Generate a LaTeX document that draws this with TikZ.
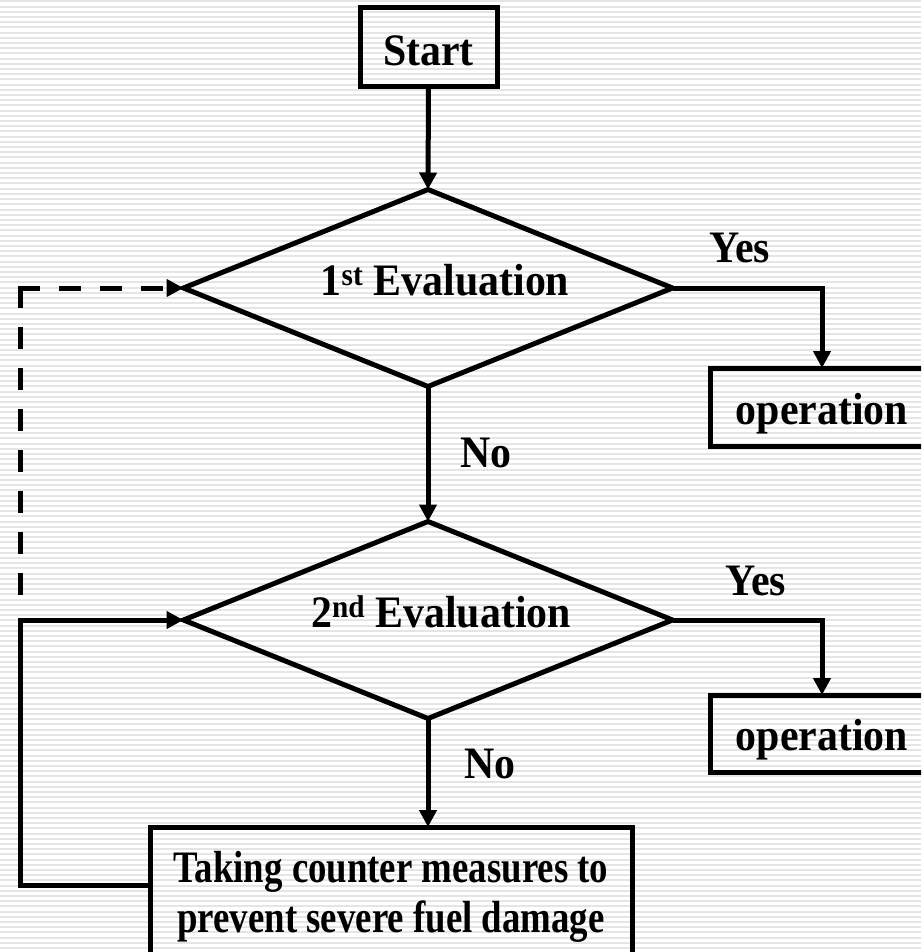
\documentclass[tikz,border=0pt]{standalone}
\usepackage{fontspec}
\setmainfont[FakeStretch=0.93]{Liberation Serif}
\usetikzlibrary{shapes.geometric,arrows.meta}
\begin{document}
\begin{tikzpicture}[x=1pt,y=-1pt,
  every node/.style={font=\fontsize{45}{50}\selectfont\bfseries, inner sep=0pt, outer sep=0pt},
  box/.style={draw, line width=5pt, rectangle},
  dec/.style={draw, line width=5pt, diamond, minimum width=489pt, minimum height=197pt},
  conn/.style={line width=5pt},
  arr/.style={conn, -{Triangle[length=17pt,width=17pt]}},
  dashseg/.style={conn, line cap=rect, dash pattern=on 17pt off 24pt},
  lbl/.style={anchor=base},
  stripe/.style={line width=2pt, draw=gray!20}]
\useasboundingbox (0,0) rectangle (921,952);
\clip (0,0) rectangle (921,952);
\fill[white] (0,0) rectangle (921,952);
\foreach \i in {0,...,183} \draw[stripe] (0,\i*5.2+1.5) -- (921,\i*5.2+1.5);

% nodes
\node[box, minimum width=137pt, minimum height=79pt] (start) at (428.5,47.5) {\raisebox{-3pt}[\height][\depth]{Start}};
\node[dec] (d1) at (428,288) {};
\node[dec] (d2) at (428,620) {};
\node[lbl] (t1) at (445,295) {1\textsuperscript{st} Evaluation};
\node[lbl] (t2) at (441,627) {2\textsuperscript{nd} Evaluation};
\node[box, minimum width=224pt, minimum height=78pt] (op1) at (822,407) {\raisebox{-7pt}[\height][\depth]{operation}};
\node[box, minimum width=224pt, minimum height=77pt] (op2) at (822,733.5) {\raisebox{-6pt}[\height][\depth]{operation}};
\node[box, minimum width=482pt, minimum height=140pt, align=center] (bb) at (391,897)
  {\scalebox{0.88}[1]{Taking counter measures to}\\\scalebox{0.88}[1]{prevent severe fuel damage}};
\node[lbl] (y1) at (740,262) {Yes};
\node[lbl] (y2) at (756,595) {Yes};
\node[lbl] (n1) at (486,467) {No};
\node[lbl] (n2) at (490,778) {No};

% helper coordinates
\coordinate (lc) at (20,0);
\coordinate (dc) at (20,288);
\coordinate (db) at (20,597);

% connectors
\draw[arr] (start.south) -- (d1.north);
\draw[arr] (d1.south) -- (d2.north);
\draw[arr] (d2.south) -- (d2.south |- bb.north);
\draw[arr] (d1.east) -| (op1.north);
\draw[arr] (d2.east) -| (op2.north);
\draw[arr] ([yshift=12pt]bb.west) -- ([yshift=12pt]bb.west -| lc) -- (lc |- d2.west) -- (d2.west);
\draw[dashseg] (dc) -- (db);
\draw[dashseg, -{Triangle[length=17pt,width=17pt]}] (dc) -- (d1.west);
\end{tikzpicture}
\end{document}
